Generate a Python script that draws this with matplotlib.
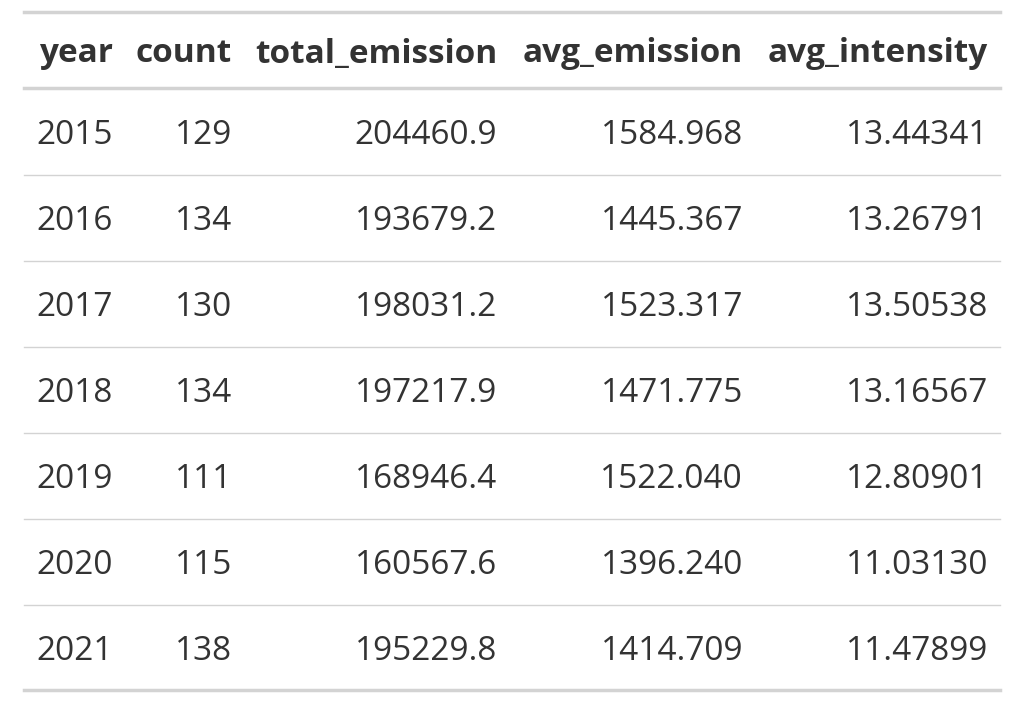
import matplotlib
matplotlib.use("Agg")
import matplotlib.pyplot as plt

columns = ["year", "count", "total_emission", "avg_emission", "avg_intensity"]
year = ["2015", "2016", "2017", "2018", "2019", "2020", "2021"]
count = ["129", "134", "130", "134", "111", "115", "138"]
total_emission = ["204460.9", "193679.2", "198031.2", "197217.9", "168946.4", "160567.6", "195229.8"]
avg_emission = ["1584.968", "1445.367", "1523.317", "1471.775", "1522.040", "1396.240", "1414.709"]
avg_intensity = ["13.44341", "13.26791", "13.50538", "13.16567", "12.80901", "11.03130", "11.47899"]

W, H = 1026, 706
fig = plt.figure(figsize=(W/100, H/100), dpi=100)
ax = fig.add_axes([0, 0, 1, 1])
ax.set_xlim(0, W); ax.set_ylim(H, 0); ax.axis("off")

font = "Open Sans"
col_right = [113, 232, 497, 743, 988]
ax.plot([24, 1000], [12, 12], color="#d3d3d3", lw=2.5)
ax.plot([24, 1000], [88, 88], color="#d3d3d3", lw=2.5)
ax.plot([24, 1000], [690, 690], color="#d3d3d3", lw=2.5)
for c, x in zip(columns, col_right):
    ax.text(x, 54, c, ha="right", va="center", fontsize=24, fontweight="bold",
            family=font, color="#333333")
data = list(zip(year, count, total_emission, avg_emission, avg_intensity))
for i, row in enumerate(data):
    y = 135 + 86 * i
    if i > 0:
        ax.plot([24, 1000], [y - 46, y - 46], color="#d3d3d3", lw=1)
    for v, x in zip(row, col_right):
        ax.text(x, y, v, ha="right", va="center", fontsize=24, family=font, color="#333333")
fig.savefig("out.png", dpi=100)
